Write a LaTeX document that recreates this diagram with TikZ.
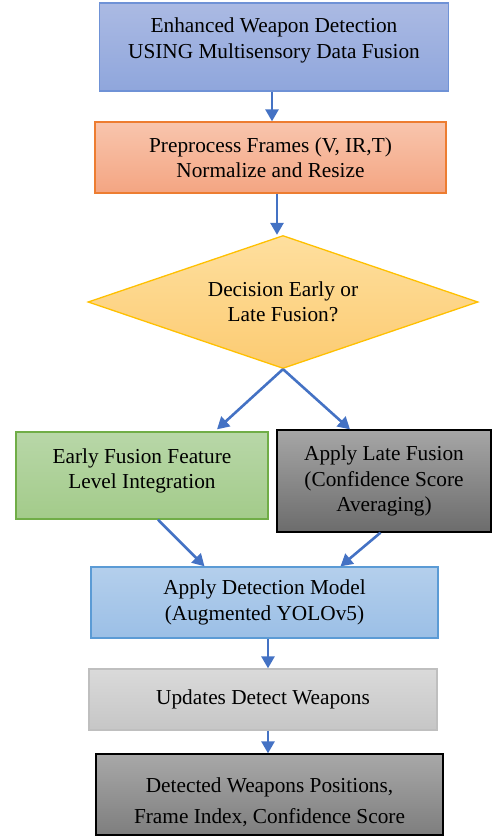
\documentclass[tikz,border=0pt]{standalone}
\usepackage{fontspec}
\setmainfont{Liberation Serif}
\usetikzlibrary{shapes.geometric,arrows.meta,calc}
\definecolor{flowblue}{HTML}{4472C4}
\definecolor{titletop}{HTML}{ABBAE3}
\definecolor{titlebot}{HTML}{8FA6DC}
\definecolor{titleline}{HTML}{6F92D6}
\definecolor{preptop}{HTML}{F8C5AD}
\definecolor{prepbot}{HTML}{F4A582}
\definecolor{prepline}{HTML}{ED7D31}
\definecolor{dectop}{HTML}{FEDF9E}
\definecolor{decbot}{HTML}{FCCB72}
\definecolor{decline}{HTML}{FFC000}
\definecolor{earlytop}{HTML}{B8D7A8}
\definecolor{earlybot}{HTML}{A3CB8A}
\definecolor{earlyline}{HTML}{70AD47}
\definecolor{latetop}{HTML}{A6A6A6}
\definecolor{latebot}{HTML}{6C6C6C}
\definecolor{dettop}{HTML}{B4CFEC}
\definecolor{detbot}{HTML}{9BBFE6}
\definecolor{detline}{HTML}{5B9BD5}
\definecolor{updtop}{HTML}{DADADA}
\definecolor{updbot}{HTML}{C6C6C6}
\definecolor{updline}{HTML}{BFBFBF}
\definecolor{fintop}{HTML}{A8A8A8}
\definecolor{finbot}{HTML}{7E7E7E}

\tikzset{
  box/.style={rectangle, draw, line width=1.3pt, align=center, inner sep=0pt,
    font=\fontsize{21.3}{25.5}\selectfont},
  flow/.style={draw=flowblue, line width=2.6pt, -{Triangle[length=12pt,width=13pt]}}
}

\begin{document}
\begin{tikzpicture}[x=1pt,y=-1pt]
  \useasboundingbox (0,0) rectangle (491,839);
  % boxes
  \node[box, draw=titleline, top color=titletop, bottom color=titlebot,
        minimum width=349pt, minimum height=88pt, text depth=18pt] (title) at (274,47)
        {Enhanced Weapon Detection\\USING Multisensory Data Fusion};
  \node[box, draw=prepline, top color=preptop, bottom color=prepbot,
        minimum width=351pt, minimum height=71pt] (prep) at (270.5,157.5)
        {Preprocess Frames (V, IR,T)\\Normalize and Resize};
  \node[box, diamond, draw=decline, top color=dectop, bottom color=decbot,
        minimum width=390pt, minimum height=133pt, aspect=2.93] (decide) at (283,302)
        {Decision Early or\\Late Fusion?};
  \node[box, draw=earlyline, top color=earlytop, bottom color=earlybot,
        minimum width=252pt, minimum height=87pt, text depth=14pt] (early) at (142,475.5)
        {Early Fusion Feature\\Level Integration};
  \node[box, draw=black, top color=latetop, bottom color=latebot,
        minimum width=214pt, minimum height=102pt] (late) at (384,481)
        {Apply Late Fusion\\(Confidence Score\\Averaging)};
  \node[box, draw=detline, top color=dettop, bottom color=detbot,
        minimum width=347pt, minimum height=71pt] (detect) at (264.5,602.5)
        {Apply Detection Model\\(Augmented YOLOv5)};
  \node[box, draw=updline, top color=updtop, bottom color=updbot,
        minimum width=348pt, minimum height=61pt] (upd) at (263,699.5)
        {Updates Detect Weapons};
  \node[box, draw=black, top color=fintop, bottom color=finbot,
        minimum width=347pt, minimum height=81pt, text height=62pt,
        font=\fontsize{21.3}{31}\selectfont] (final) at (269.5,794.5)
        {Detected Weapons Positions,\\Frame Index, Confidence Score};

  % arrows
  \draw[flow] ([xshift=-2pt]title.south) -- ([xshift=-2pt]title.south |- prep.north);
  \draw[flow] ([xshift=6.5pt]prep.south) -- ([xshift=6.5pt]prep.south |- decide.north);
  \draw[flow] (decide.south) -- ([xshift=75pt,yshift=2pt]early.north);
  \draw[flow] (decide.south) -- ([xshift=-34pt]late.north);
  \draw[flow] ([xshift=16pt]early.south) -- ([xshift=-60pt]detect.north);
  \draw[flow] ([xshift=-3.5pt]late.south) -- ([xshift=76pt]detect.north);
  \draw[flow] ([xshift=3.5pt]detect.south) -- ([xshift=3.5pt]detect.south |- upd.north);
  \draw[flow] ([xshift=5pt]upd.south) -- ([xshift=5pt]upd.south |- final.north);
\end{tikzpicture}
\end{document}
